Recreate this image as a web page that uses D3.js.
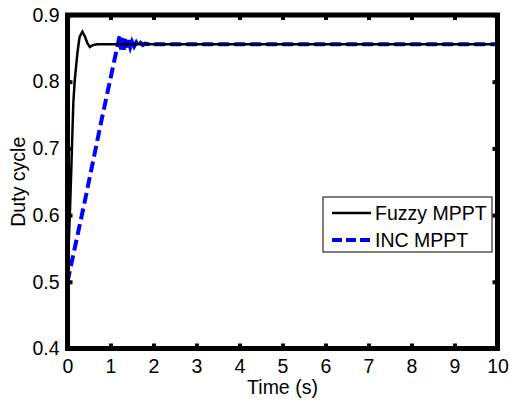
<!DOCTYPE html>
<html><head><meta charset="utf-8">
<script src="https://cdn.jsdelivr.net/npm/d3@7"></script>
<style>body{margin:0;background:#fff}svg{display:block}text{font-family:"Liberation Sans",Arial,sans-serif;fill:#000}</style>
</head><body>
<svg id="c" width="510" height="401"></svg>
<script>
const xTicks = [0,1,2,3,4,5,6,7,8,9,10];
const yTicks = [0.4,0.5,0.6,0.7,0.8,0.9];
const seriesNames = ["Fuzzy MPPT","INC MPPT"];
const fuzzyT = [0,0.03,0.06,0.1,0.135,0.17,0.23,0.28,0.345,0.41,0.46,0.52,0.6,0.7,1,2,5,10];
const fuzzyV = [0.5,0.56,0.612,0.693,0.768,0.803,0.843,0.867,0.875,0.867,0.858,0.852,0.855,0.856,0.856,0.856,0.856,0.856];
const incT = [0,0.4,0.8,1.0,1.15,1.2,1.22,1.25,1.28,1.31,1.34,1.38,1.42,1.46,1.5,1.55,1.6,1.65,1.7,1.75,1.8,1.9,3,10];
const incV = [0.5,0.62,0.745,0.805,0.85,0.865,0.87,0.845,0.866,0.848,0.864,0.85,0.862,0.852,0.86,0.853,0.859,0.854,0.858,0.855,0.857,0.856,0.856,0.856];

const svg = d3.select("#c");
const L=67.5,R=497.5,T=15,B=348.5;
const x = d3.scaleLinear().domain([0,10]).range([L,R]);
const y = d3.scaleLinear().domain([0.4,0.9]).range([B,T]);
const fs = 19.5;

const ax = svg.append("g");
ax.append("g").attr("transform",`translate(0,${B})`).call(d3.axisBottom(x).tickValues(xTicks).tickSizeInner(-5).tickSizeOuter(0).tickPadding(11).tickFormat(d3.format("d")));
ax.append("g").attr("transform",`translate(0,${T})`).call(d3.axisTop(x).tickValues(xTicks).tickSizeInner(-5).tickSizeOuter(0).tickFormat(""));
ax.append("g").attr("transform",`translate(${L},0)`).call(d3.axisLeft(y).tickValues(yTicks).tickSizeInner(-5).tickSizeOuter(0).tickPadding(8).tickFormat(d3.format(".1f")));
ax.append("g").attr("transform",`translate(${R},0)`).call(d3.axisRight(y).tickValues(yTicks).tickSizeInner(-5).tickSizeOuter(0).tickFormat(""));
ax.selectAll(".domain").remove();
ax.selectAll(".tick line").attr("stroke","#000").attr("stroke-width",4);
ax.selectAll(".tick text").attr("font-size",fs).attr("font-family","Liberation Sans, Arial, sans-serif").attr("fill","#000");

const line = d3.line().x(d=>x(d[0])).y(d=>y(d[1]));
svg.append("path").datum(incT.map((t,i)=>[t,incV[i]])).attr("d",line).attr("fill","none").attr("stroke","#0000ff").attr("stroke-width",4).attr("stroke-dasharray","11,5");
svg.append("path").datum(fuzzyT.map((t,i)=>[t,fuzzyV[i]])).attr("d",line).attr("fill","none").attr("stroke","#000").attr("stroke-width",2.5);

svg.append("rect").attr("x",L).attr("y",T).attr("width",R-L).attr("height",B-T).attr("fill","none").attr("stroke","#000").attr("stroke-width",5);

svg.append("text").attr("x",(L+R)/2).attr("y",394).attr("text-anchor","middle").attr("font-size",fs).text("Time (s)");
svg.append("text").attr("transform",`translate(25,${(T+B)/2}) rotate(-90)`).attr("text-anchor","middle").attr("font-size",fs).text("Duty cycle");

const lg = svg.append("g");
lg.append("rect").attr("x",323).attr("y",197).attr("width",169).attr("height",55).attr("fill","#fff").attr("stroke","#000").attr("stroke-width",1);
const styles=[{c:"#000",w:2.5,d:null},{c:"#0000ff",w:4,d:"10,4"}];
seriesNames.forEach((n,i)=>{
  const yy = 213 + i*27;
  lg.append("line").attr("x1",332).attr("x2",371).attr("y1",yy).attr("y2",yy).attr("stroke",styles[i].c).attr("stroke-width",styles[i].w).attr("stroke-dasharray",styles[i].d);
  lg.append("text").attr("x",375).attr("y",yy).attr("dy","0.35em").attr("font-size",fs).text(n);
});
</script>
</body></html>
